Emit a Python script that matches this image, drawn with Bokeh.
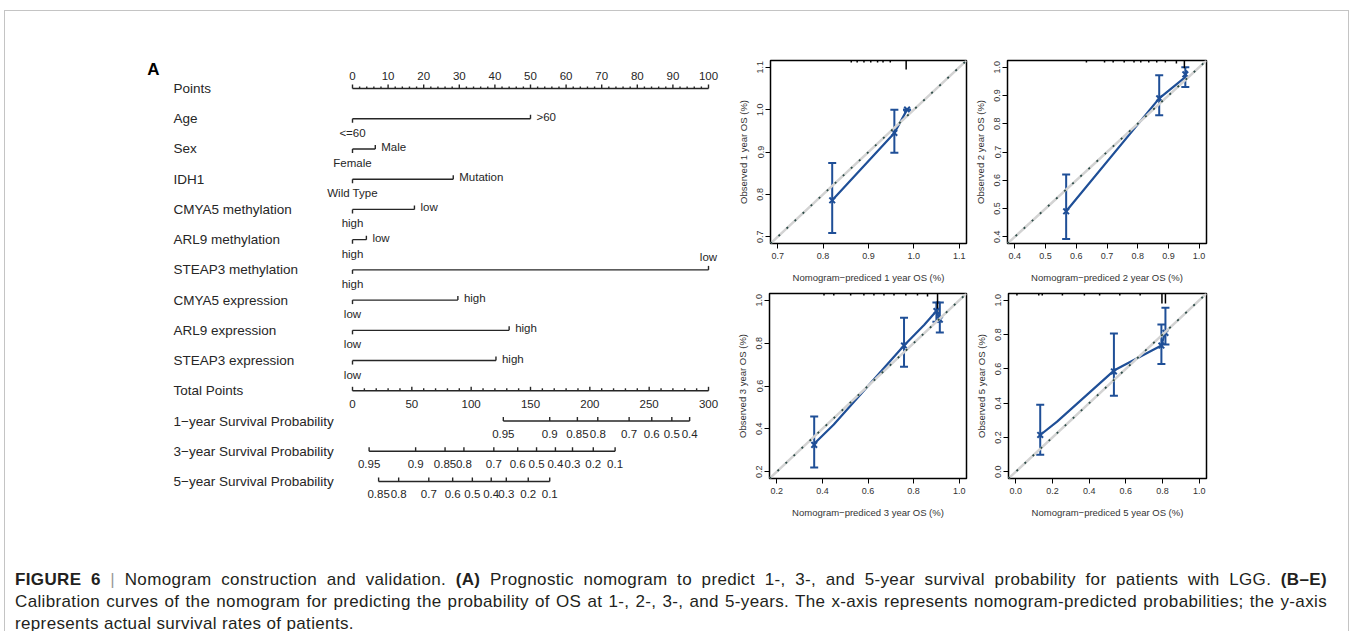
import numpy as np
from bokeh.plotting import figure
from bokeh.models import (Range1d, FixedTicker, PrintfTickFormatter, Whisker, TeeHead,
                          Slope, Label, Div, Spacer, ColumnDataSource)
from bokeh.layouts import row, column
from bokeh.core.properties import value
from bokeh.embed import file_html
from bokeh.resources import INLINE

FONT = "Liberation Sans"
INK = "#262626"
BLUE = "#1f4f97"

# ---------------- nomogram data ----------------
row_labels = ["Points", "Age", "Sex", "IDH1", "CMYA5 methylation", "ARL9 methylation",
              "STEAP3 methylation", "CMYA5 expression", "ARL9 expression", "STEAP3 expression",
              "Total Points", "1\u2212year Survival Probability",
              "3\u2212year Survival Probability", "5\u2212year Survival Probability"]
var_points = [50.0, 6.4, 28.3, 17.4, 3.9, 100.0, 29.6, 44.0, 40.3]
var_left_labels = ["<=60", "Female", "Wild Type", "high", "high", "high", "low", "low", "low"]
var_right_labels = [">60", "Male", "Mutation", "low", "low", "low", "high", "high", "high"]
points_ticks = [0, 10, 20, 30, 40, 50, 60, 70, 80, 90, 100]
points_minor = list(range(0, 101, 2))
total_ticks = [0, 50, 100, 150, 200, 250, 300]
total_minor = list(range(0, 301, 10))
surv1_labels = ["0.95", "0.9", "0.85", "0.8", "0.7", "0.6", "0.5", "0.4"]
surv1_total = [127.1, 166.2, 189.5, 206.7, 233.1, 252.2, 269.1, 284.1]
surv3_labels = ["0.95", "0.9", "0.85", "0.8", "0.7", "0.6", "0.5", "0.4", "0.3", "0.2", "0.1"]
surv3_total = [14.0, 53.2, 78.0, 93.9, 119.1, 139.2, 155.1, 171.0, 185.4, 202.9, 221.3]
surv5_labels = ["0.85", "0.8", "0.7", "0.6", "0.5", "0.4", "0.3", "0.2", "0.1"]
surv5_total = [22.0, 38.9, 64.3, 84.4, 101.0, 116.9, 129.6, 148.1, 166.2]
TOTAL_MAX = 300.0   # total points shown on 0..100 points scale

# ---------------- calibration data ----------------
b_pred = [0.820, 0.957, 0.985]
b_obs = [0.786, 0.945, 1.000]
b_lo = [0.709, 0.898, 1.000]
b_hi = [0.874, 1.000, 1.000]
b_line_x = [0.820, 0.957, 0.985]
b_line_y = [0.786, 0.945, 1.000]
b_spike_x = [0.862, 0.875, 0.890, 0.905, 0.920, 0.932, 0.948, 0.983]
b_spike_h = [2, 2, 2, 2, 2, 2, 2, 9]

c_pred = [0.567, 0.870, 0.955]
c_obs = [0.490, 0.890, 0.975]
c_lo = [0.392, 0.830, 0.930]
c_hi = [0.620, 0.972, 1.000]
c_line_x = [0.567, 0.870, 0.955, 0.958]
c_line_y = [0.490, 0.890, 0.965, 0.990]
c_spike_x = [0.633, 0.692, 0.720, 0.756, 0.788, 0.810, 0.836, 0.862, 0.890, 0.926, 0.952]
c_spike_h = [2, 2, 2, 2, 2, 2, 2, 2, 2, 3, 8]

d_pred = [0.364, 0.758, 0.900, 0.915]
d_obs = [0.325, 0.789, 0.950, 0.910]
d_lo = [0.219, 0.690, 0.900, 0.850]
d_hi = [0.457, 0.919, 0.990, 0.990]
d_line_x = [0.364, 0.450, 0.758, 0.846, 0.900, 0.915]
d_line_y = [0.330, 0.420, 0.789, 0.885, 0.950, 0.910]
d_spike_x = [0.407, 0.450, 0.524, 0.582, 0.626, 0.670, 0.714, 0.766, 0.817, 0.861, 0.905]
d_spike_h = [2, 2, 2, 2, 2, 2, 2, 2, 2, 3, 20]

e_pred = [0.133, 0.535, 0.794, 0.816]
e_obs = [0.214, 0.585, 0.736, 0.810]
e_lo = [0.098, 0.443, 0.628, 0.743]
e_hi = [0.390, 0.806, 0.859, 0.957]
e_line_x = [0.133, 0.225, 0.535, 0.794, 0.816]
e_line_y = [0.214, 0.292, 0.590, 0.736, 0.820]
e_spike_x = [0.006, 0.125, 0.144, 0.254, 0.374, 0.457, 0.567, 0.678, 0.797, 0.816]
e_spike_h = [2, 2, 2, 2, 2, 2, 2, 2, 10, 10]

caption_lines = [
    '<b>FIGURE 6</b> <span style="color:#9a9a9a">|</span> Nomogram construction and validation. '
    '<b>(A)</b> Prognostic nomogram to predict 1-, 3-, and 5-year survival probability for '
    'patients with LGG. <b>(B\u2013E)</b>',
    'Calibration curves of the nomogram for predicting the probability of OS at 1-, 2-, 3-, and '
    '5-years. The x-axis represents nomogram-predicted probabilities; the y-axis',
    'represents actual survival rates of patients.',
]

# ======================= nomogram figure =======================
PX_PT = 3.56      # pixels per point
PX_ROW = 30.23    # pixels per row
NW, NH = 722, 519
X0PX, Y0PX = 347, 77   # pixel position of (0 points, row 0) inside the figure


def dxp(px):
    return px / PX_PT


def dyp(px):
    return px / PX_ROW


nomo = figure(width=NW, height=NH, output_backend="svg", toolbar_location=None,
              x_range=Range1d(-X0PX / PX_PT, (NW - X0PX) / PX_PT),
              y_range=Range1d((NH - Y0PX) / PX_ROW, -Y0PX / PX_ROW),
              x_axis_location=None, y_axis_location=None, min_border=0,
              outline_line_color=None, background_fill_color="white",
              border_fill_color="white")
nomo.grid.visible = False

LW = 1.4
TXT = dict(text_font=value(FONT), text_color=INK, text_baseline="middle")

# row labels
nomo.text(x=[dxp(-179)] * len(row_labels), y=list(range(len(row_labels))), text=row_labels,
          text_align="left", text_font_size="13.5px", **TXT)
# panel letter A
nomo.text(x=[dxp(-199)], y=[dyp(-19)], text=["A"], text_align="center",
          text_font_size="17px", text_font_style="bold", text_font=value(FONT),
          text_color="black", text_baseline="middle")

# Points axis (row 0)
nomo.segment(x0=[points_ticks[0]], y0=[0], x1=[points_ticks[-1]], y1=[0], line_color=INK, line_width=LW)
mn_len = [4 if t % 10 == 0 else 2 for t in points_minor]
nomo.segment(x0=points_minor, y0=[0] * len(points_minor), x1=points_minor,
             y1=[-dyp(l) for l in mn_len], line_color=INK, line_width=LW)
nomo.text(x=points_ticks, y=[dyp(-13)] * len(points_ticks), text=[str(t) for t in points_ticks],
          text_align="center", text_font_size="11.5px", **TXT)

# variable rows
for i, (pts, ll, rl) in enumerate(zip(var_points, var_left_labels, var_right_labels)):
    r = i + 1
    nomo.segment(x0=[0], y0=[r], x1=[pts], y1=[r], line_color=INK, line_width=LW)
    nomo.segment(x0=[0, pts], y0=[r, r], x1=[0, pts], y1=[r + dyp(4), r - dyp(4)],
                 line_color=INK, line_width=LW)
    nomo.text(x=[0], y=[r + dyp(14)], text=[ll], text_align="center",
              text_font_size="11.5px", **TXT)
    if pts >= 95:
        nomo.text(x=[pts], y=[r - dyp(13)], text=[rl], text_align="center",
                  text_font_size="11.5px", **TXT)
    else:
        nomo.text(x=[pts + dxp(6)], y=[r - dyp(2)], text=[rl], text_align="left",
                  text_font_size="11.5px", **TXT)

# Total points axis (row 10)
scale = 100.0 / TOTAL_MAX
r = 10
nomo.segment(x0=[0], y0=[r], x1=[TOTAL_MAX * scale], y1=[r], line_color=INK, line_width=LW)
tl = [4 if t % 50 == 0 else 2.5 for t in total_minor]
nomo.segment(x0=[t * scale for t in total_minor], y0=[r] * len(total_minor),
             x1=[t * scale for t in total_minor], y1=[r - dyp(l) for l in tl],
             line_color=INK, line_width=LW)
nomo.text(x=[t * scale for t in total_ticks], y=[r + dyp(13.5)] * len(total_ticks),
          text=[str(t) for t in total_ticks], text_align="center", text_font_size="11.5px", **TXT)

# survival axes
for r, labs, tot in [(11, surv1_labels, surv1_total), (12, surv3_labels, surv3_total),
                     (13, surv5_labels, surv5_total)]:
    xs = [t * scale for t in tot]
    nomo.segment(x0=[min(xs)], y0=[r], x1=[max(xs)], y1=[r], line_color=INK, line_width=LW)
    nomo.segment(x0=xs, y0=[r] * len(xs), x1=xs, y1=[r - dyp(4)] * len(xs),
                 line_color=INK, line_width=LW)
    nomo.text(x=xs, y=[r + dyp(13)] * len(xs), text=labs, text_align="center",
              text_font_size="11.5px", **TXT)


# ======================= calibration panels =======================
def calib(letter, lim, ticks, year, pred, obs, lo, hi, lx, ly, sx, sh,
          width, height, bl, br, bt, bb, letter_dx, letter_dy):
    pad = 0.04 * (lim[1] - lim[0])
    xr = (lim[0] - pad, lim[1] + pad)
    p = figure(width=width, height=height, output_backend="svg", toolbar_location=None,
               x_range=Range1d(*xr), y_range=Range1d(*xr),
               min_border_left=bl, min_border_right=br, min_border_top=bt, min_border_bottom=bb,
               background_fill_color="white", border_fill_color="white")
    p.grid.visible = False
    p.outline_line_color = "black"
    p.outline_line_width = 1.5
    p.outline_line_alpha = 1.0
    fw = width - bl - br
    fh = height - bt - bb
    dpx = (xr[1] - xr[0]) / fw
    dpy = (xr[1] - xr[0]) / fh
    for ax in (p.xaxis[0], p.yaxis[0]):
        ax.ticker = FixedTicker(ticks=ticks)
        ax.formatter = PrintfTickFormatter(format="%.1f")
        ax.major_tick_out = 5
        ax.major_tick_in = 0
        ax.minor_tick_out = 0
        ax.minor_tick_in = 0
        ax.axis_line_color = "black"
        ax.axis_line_width = 1
        ax.major_tick_line_color = "black"
        ax.major_label_text_font = FONT
        ax.major_label_text_font_size = "9px"
        ax.major_label_text_color = "#333333"
        ax.axis_label_text_font = FONT
        ax.axis_label_text_font_size = "9.5px"
        ax.axis_label_text_font_style = "normal"
        ax.axis_label_text_color = "#333333"
    p.xaxis.axis_label = "Nomogram\u2212prediced %s year OS (%%)" % year
    p.yaxis.axis_label = "Observed %s year OS (%%)" % year
    p.yaxis.major_label_orientation = "vertical"
    p.xaxis.major_label_standoff = 4
    p.yaxis.major_label_standoff = 2
    p.xaxis.axis_label_standoff = 10
    p.yaxis.axis_label_standoff = 6

    # ideal line: light grey + dark dotted
    p.add_layout(Slope(gradient=1, y_intercept=0, line_color="#d3d3d3", line_width=2.5))
    p.add_layout(Slope(gradient=1, y_intercept=0, line_color="#2b4a45", line_width=1.8,
                       line_dash="2 9"))
    # spike histogram at top
    p.segment(x0=sx, y0=[xr[1]] * len(sx), x1=sx, y1=[xr[1] - h * dpy for h in sh],
              line_color="black", line_width=1.5)
    # calibration curve
    p.line(lx, ly, line_color=BLUE, line_width=2.2)
    src = ColumnDataSource(dict(x=pred, y=obs, lo=lo, hi=hi))
    p.add_layout(Whisker(source=src, base="x", upper="hi", lower="lo", line_color=BLUE,
                         line_width=2,
                         upper_head=TeeHead(size=8, line_color=BLUE, line_width=2),
                         lower_head=TeeHead(size=8, line_color=BLUE, line_width=2)))
    p.scatter("x", "y", source=src, marker="x", size=8, line_width=2, line_color=BLUE)
    p.add_layout(Label(x=xr[0] - letter_dx * dpx, y=xr[1] - letter_dy * dpy, text=letter,
                       text_font=FONT, text_font_size="17px", text_font_style="bold",
                       text_align="center", text_baseline="middle", text_color="black"))
    return p


tB = [0.7, 0.8, 0.9, 1.0, 1.1]
tC = [0.4, 0.5, 0.6, 0.7, 0.8, 0.9, 1.0]
tD = [0.2, 0.4, 0.6, 0.8, 1.0]
tE = [0.0, 0.2, 0.4, 0.6, 0.8, 1.0]

pB = calib("B", (0.7, 1.1), tB, "1", b_pred, b_obs, b_lo, b_hi, b_line_x, b_line_y,
           b_spike_x, b_spike_h, 241, 279, 43, 2, 49, 47, 35, 8)
pC = calib("C", (0.4, 1.0), tC, "2", c_pred, c_obs, c_lo, c_hi, c_line_x, c_line_y,
           c_spike_x, c_spike_h, 380, 279, 39, 142, 46, 43, 29, 8)
pD = calib("D", (0.2, 1.0), tD, "3", d_pred, d_obs, d_lo, d_hi, d_line_x, d_line_y,
           d_spike_x, d_spike_h, 241, 240, 42, 2, 2, 52, 32, 8)
pE = calib("E", (0.0, 1.0), tE, "5", e_pred, e_obs, e_lo, e_hi, e_line_x, e_line_y,
           e_spike_x, e_spike_h, 380, 240, 40, 142, 3, 52, 28, 7)

# ======================= caption & frame =======================
just = 'width:1312px; text-align:justify; text-align-last:justify;'
caption_html = (
    '<div style="padding:39px 0 0 10px; font-family:\'Liberation Sans\'; font-size:17px; '
    'letter-spacing:0.35px; line-height:22px; color:#231f20;">'
    + '<div style="%s">%s</div>' % (just, caption_lines[0])
    + '<div style="%s">%s</div>' % (just, caption_lines[1])
    + '<div style="white-space:nowrap;">%s</div>' % caption_lines[2]
    + '</div>')
caption = Div(text=caption_html, width=1343, height=101, margin=0)

GREY = "#c4c4c4"
top_line = row(Spacer(width=4, height=1),
               Div(text="", width=1345, height=1, margin=0, styles={"background-color": GREY}),
               Spacer(width=3, height=1))
content = column(row(nomo, column(row(pB, pC), row(pD, pE))), caption)
main = row(Spacer(width=4, height=620),
           Div(text="", width=1, height=620, margin=0, styles={"background-color": GREY}),
           content,
           Div(text="", width=1, height=620, margin=0, styles={"background-color": GREY}),
           Spacer(width=3, height=620))
page = column(Spacer(width=1352, height=10), top_line, main)

open("out.html", "w").write(file_html(page, INLINE))
